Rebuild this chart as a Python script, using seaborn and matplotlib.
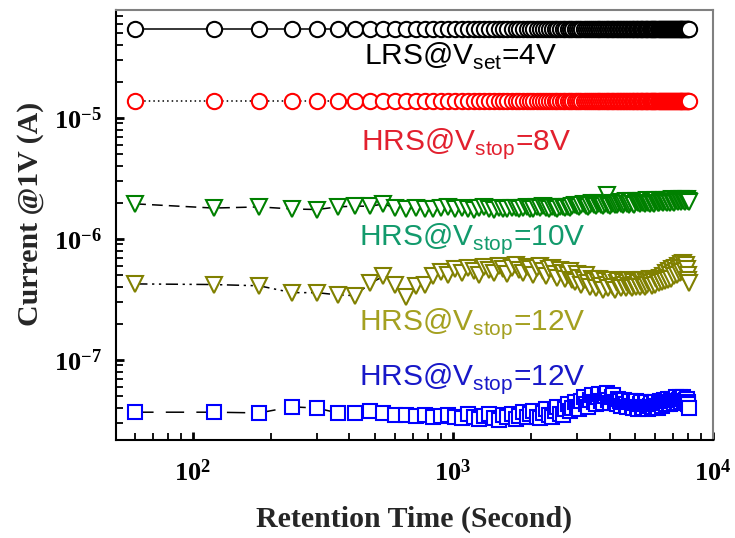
import numpy as np
import seaborn as sns
import matplotlib.pyplot as plt
from matplotlib.ticker import FuncFormatter, NullFormatter, LogLocator

sns.set_style("ticks")
plt.rcParams["font.family"] = ["Liberation Sans", "DejaVu Sans"]
plt.rcParams["mathtext.fontset"] = "custom"
plt.rcParams["mathtext.rm"] = "Liberation Serif"
plt.rcParams["mathtext.bf"] = "Liberation Serif:bold"
plt.rcParams["mathtext.sf"] = "Liberation Sans"

# measurement every 60 s
retention_time = list(range(60, 8101, 60))

# Current @1V (A)
lrs_set4 = [
    5.45, 5.45, 5.45, 5.45, 5.45, 5.45, 5.45, 5.45, 5.45, 5.45, 5.45, 5.45, 5.45, 5.45, 5.45,
    5.45, 5.45, 5.45, 5.45, 5.45, 5.45, 5.45, 5.45, 5.45, 5.45, 5.45, 5.45, 5.45, 5.45, 5.45,
    5.45, 5.45, 5.45, 5.45, 5.45, 5.45, 5.45, 5.45, 5.45, 5.45, 5.45, 5.45, 5.45, 5.45, 5.45,
    5.45, 5.45, 5.45, 5.45, 5.45, 5.45, 5.45, 5.45, 5.45, 5.45, 5.45, 5.45, 5.45, 5.45, 5.45,
    5.45, 5.45, 5.45, 5.45, 5.45, 5.45, 5.45, 5.45, 5.45, 5.45, 5.45, 5.45, 5.45, 5.45, 5.45,
    5.45, 5.45, 5.45, 5.45, 5.45, 5.45, 5.45, 5.45, 5.45, 5.45, 5.45, 5.45, 5.45, 5.45, 5.45,
    5.45, 5.45, 5.45, 5.45, 5.45, 5.45, 5.45, 5.45, 5.45, 5.45, 5.45, 5.45, 5.45, 5.45, 5.45,
    5.45, 5.45, 5.45, 5.45, 5.45, 5.45, 5.45, 5.45, 5.45, 5.45, 5.45, 5.45, 5.45, 5.45, 5.45,
    5.45, 5.45, 5.45, 5.45, 5.45, 5.45, 5.45, 5.45, 5.45, 5.45, 5.45, 5.45, 5.45, 5.45, 5.45,
]  # x1e-5
hrs_stop8 = [
    1.38, 1.38, 1.38, 1.38, 1.38, 1.38, 1.38, 1.38, 1.38, 1.38, 1.38, 1.38, 1.38, 1.38, 1.38,
    1.38, 1.38, 1.38, 1.38, 1.38, 1.38, 1.38, 1.38, 1.38, 1.38, 1.38, 1.38, 1.38, 1.38, 1.38,
    1.38, 1.38, 1.38, 1.38, 1.38, 1.38, 1.38, 1.38, 1.38, 1.38, 1.38, 1.38, 1.38, 1.38, 1.38,
    1.38, 1.38, 1.38, 1.38, 1.38, 1.38, 1.38, 1.38, 1.38, 1.38, 1.38, 1.38, 1.38, 1.38, 1.38,
    1.38, 1.38, 1.38, 1.38, 1.38, 1.38, 1.38, 1.38, 1.38, 1.38, 1.38, 1.38, 1.38, 1.38, 1.38,
    1.38, 1.38, 1.38, 1.38, 1.38, 1.38, 1.38, 1.38, 1.38, 1.38, 1.38, 1.38, 1.38, 1.38, 1.38,
    1.38, 1.38, 1.38, 1.38, 1.38, 1.38, 1.38, 1.38, 1.38, 1.38, 1.38, 1.38, 1.38, 1.38, 1.38,
    1.38, 1.38, 1.38, 1.38, 1.38, 1.38, 1.38, 1.38, 1.38, 1.38, 1.38, 1.38, 1.38, 1.38, 1.38,
    1.38, 1.38, 1.38, 1.38, 1.38, 1.38, 1.38, 1.38, 1.38, 1.38, 1.38, 1.38, 1.38, 1.38, 1.38,
]  # x1e-5
hrs_stop10 = [
    1.95, 1.80, 1.84, 1.77, 1.75, 1.84, 1.87, 1.86, 1.95, 1.80, 1.78, 1.80, 1.76, 1.78, 1.80,
    1.82, 1.78, 1.80, 1.76, 1.74, 1.79, 1.82, 1.77, 1.75, 1.80, 1.78, 1.76, 1.81, 1.79, 1.77,
    1.80, 1.84, 1.78, 1.76, 1.82, 1.79, 1.86, 1.80, 1.77, 1.83, 1.81, 1.78, 1.85, 1.82, 1.79,
    1.84, 1.80, 1.88, 1.92, 1.86, 1.83, 1.90, 1.95, 1.87, 1.84, 1.92, 1.97, 1.89, 1.86, 1.94,
    1.98, 1.90, 1.87, 1.95, 2.30, 1.92, 1.88, 1.96, 2.00, 1.91, 1.89, 1.97, 2.02, 1.93, 1.90,
    1.98, 2.04, 1.95, 1.91, 2.00, 2.06, 1.96, 1.92, 2.01, 2.05, 1.97, 1.93, 2.03, 2.07, 1.98,
    1.94, 2.02, 2.08, 1.99, 1.95, 2.04, 2.06, 1.98, 1.96, 2.05, 2.10, 2.00, 1.97, 2.06, 2.08,
    2.01, 1.98, 2.07, 2.11, 2.02, 1.99, 2.08, 2.05, 2.00, 2.09, 2.12, 2.03, 2.00, 2.08, 2.10,
    2.04, 2.01, 2.10, 2.13, 2.05, 2.02, 2.09, 2.12, 2.06, 2.03, 2.11, 2.14, 2.07, 2.05, 2.02,
]  # x1e-6
hrs_stop12_a = [
    4.25, 4.20, 4.10, 3.60, 3.60, 3.45, 3.40, 4.30, 4.90, 4.20, 3.30, 4.10, 4.20, 4.90, 5.30,
    5.00, 5.60, 5.20, 5.80, 5.40, 5.00, 5.90, 5.50, 5.20, 6.00, 5.60, 5.10, 5.80, 6.10, 5.50,
    5.20, 5.90, 5.60, 5.00, 5.70, 6.00, 5.40, 4.90, 5.60, 5.80, 5.10, 4.80, 5.50, 5.20, 4.70,
    5.00, 5.40, 4.60, 4.40, 5.10, 4.80, 4.20, 4.60, 5.00, 4.30, 4.00, 4.70, 4.50, 3.90, 4.40,
    4.70, 4.10, 3.80, 4.50, 4.20, 3.90, 4.40, 4.60, 4.00, 3.80, 4.30, 4.50, 4.10, 3.90, 4.40,
    4.20, 3.90, 4.30, 4.60, 4.10, 3.90, 4.40, 4.20, 4.00, 4.50, 4.30, 4.00, 4.40, 4.60, 4.20,
    4.00, 4.40, 4.20, 4.50, 4.70, 4.30, 4.10, 4.60, 4.40, 4.20, 4.70, 4.50, 4.30, 4.80, 4.60,
    4.40, 4.90, 4.70, 4.50, 5.20, 4.80, 4.60, 5.40, 5.00, 4.70, 5.60, 5.20, 4.90, 5.80, 5.40,
    5.00, 6.00, 5.60, 5.20, 6.20, 5.70, 5.30, 6.30, 5.80, 5.40, 6.10, 5.60, 5.00, 4.60, 4.30,
]  # x1e-7
hrs_stop12_b = [
    3.70, 3.70, 3.65, 4.10, 4.00, 3.65, 3.65, 3.80, 3.65, 3.50, 3.50, 3.45, 3.50, 3.40, 3.45,
    3.50, 3.40, 3.30, 3.55, 3.40, 3.25, 3.45, 3.60, 3.30, 3.20, 3.50, 3.35, 3.60, 3.25, 3.45,
    3.70, 3.35, 3.55, 3.80, 3.40, 3.30, 3.65, 3.90, 3.50, 3.40, 3.80, 4.10, 3.60, 3.50, 3.90,
    4.30, 3.80, 4.00, 4.50, 4.10, 3.90, 4.60, 4.90, 4.30, 4.10, 4.70, 5.10, 4.50, 4.30, 4.90,
    5.20, 4.60, 4.40, 5.00, 5.30, 4.70, 4.40, 4.90, 5.10, 4.50, 4.30, 4.80, 4.60, 4.20, 4.50,
    4.70, 4.30, 4.10, 4.50, 4.60, 4.20, 4.00, 4.40, 4.60, 4.10, 3.95, 4.30, 4.50, 4.10, 4.00,
    4.30, 4.50, 4.10, 3.90, 4.20, 4.40, 4.00, 4.10, 4.30, 4.50, 4.20, 4.00, 4.30, 4.60, 4.40,
    4.20, 4.40, 4.70, 4.50, 4.30, 4.60, 4.80, 4.50, 4.30, 4.60, 4.80, 4.60, 4.40, 4.70, 4.90,
    4.60, 4.40, 4.70, 4.90, 4.60, 4.50, 4.80, 4.90, 4.60, 4.50, 4.70, 4.80, 4.50, 4.30, 4.00,
]  # x1e-8

series = [
    # values, scale, marker, size, color, linestyle
    (lrs_set4, 1e-5, "o", 11, "#000000", "-"),
    (hrs_stop8, 1e-5, "o", 11, "#ff0000", (0, (1, 2))),
    (hrs_stop10, 1e-6, "v", 11, "#008000", (0, (7, 4))),
    (hrs_stop12_a, 1e-7, "v", 11, "#808000", (0, (8, 3, 1.5, 3, 1.5, 3))),
    (hrs_stop12_b, 1e-8, "s", 10, "#0000ff", (0, (12, 8))),
]

labels = [
    ("LRS@V$_{\\mathsf{set}}$=4V", "#000000", 0.415, 0.872),
    ("HRS@V$_{\\mathsf{stop}}$=8V", "#e2202e", 0.411, 0.674),
    ("HRS@V$_{\\mathsf{stop}}$=10V", "#129a6c", 0.407, 0.453),
    ("HRS@V$_{\\mathsf{stop}}$=12V", "#a4a020", 0.407, 0.256),
    ("HRS@V$_{\\mathsf{stop}}$=12V", "#1818c8", 0.407, 0.128),
]

fig = plt.figure(figsize=(7.35, 5.38), dpi=100)
ax = fig.add_axes([116 / 735, 98 / 538, 597 / 735, 430 / 538])
ax.set_xscale("log")
ax.set_yscale("log")

for vals, scale, mk, ms, col, ls in series:
    y = np.array(vals) * scale
    sns.lineplot(x=retention_time, y=y, ax=ax, color="black", linestyle=ls,
                 linewidth=1.1, marker=mk, markersize=ms,
                 markerfacecolor="white", markeredgecolor=col,
                 markeredgewidth=1.5)

for txt, col, x, y in labels:
    ax.text(x, y, txt, color=col, fontsize=21.5, transform=ax.transAxes,
            va="baseline", ha="left")

ax.set_xlim(50.6, 1e4)
ax.set_ylim(2.18e-8, 7.8e-5)

ax.xaxis.set_major_locator(LogLocator(base=10))
ax.yaxis.set_major_locator(LogLocator(base=10))
ax.xaxis.set_minor_locator(LogLocator(base=10, subs=np.arange(2, 10)))
ax.yaxis.set_minor_locator(LogLocator(base=10, subs=np.arange(2, 10)))
fmt = FuncFormatter(lambda v, p: r"$\mathbf{10^{%d}}$" % round(np.log10(v)))
ax.xaxis.set_major_formatter(fmt)
ax.yaxis.set_major_formatter(fmt)
ax.xaxis.set_minor_formatter(NullFormatter())
ax.yaxis.set_minor_formatter(NullFormatter())

ax.tick_params(which="both", direction="in", top=False, right=False,
               labelsize=19, colors="black")
ax.tick_params(axis="x", which="major", pad=14)
ax.tick_params(axis="y", which="major", pad=10)
ax.tick_params(which="major", length=6, width=2.0)
ax.tick_params(which="minor", length=5, width=1.3)

for s in ["left", "bottom"]:
    ax.spines[s].set_color("black")
    ax.spines[s].set_linewidth(1.5)
for s in ["top", "right"]:
    ax.spines[s].set_color("#808080")
    ax.spines[s].set_linewidth(1.5)

ax.set_xlabel("Retention Time (Second)", fontsize=21.5, fontweight="bold",
              family="Liberation Serif")
ax.set_ylabel("Current @1V (A)", fontsize=21.5, fontweight="bold",
              family="Liberation Serif")
ax.xaxis.set_label_coords(0.5, -0.152)
ax.yaxis.set_label_coords(-0.12, 0.526)

fig.savefig("out.png", dpi=100)
